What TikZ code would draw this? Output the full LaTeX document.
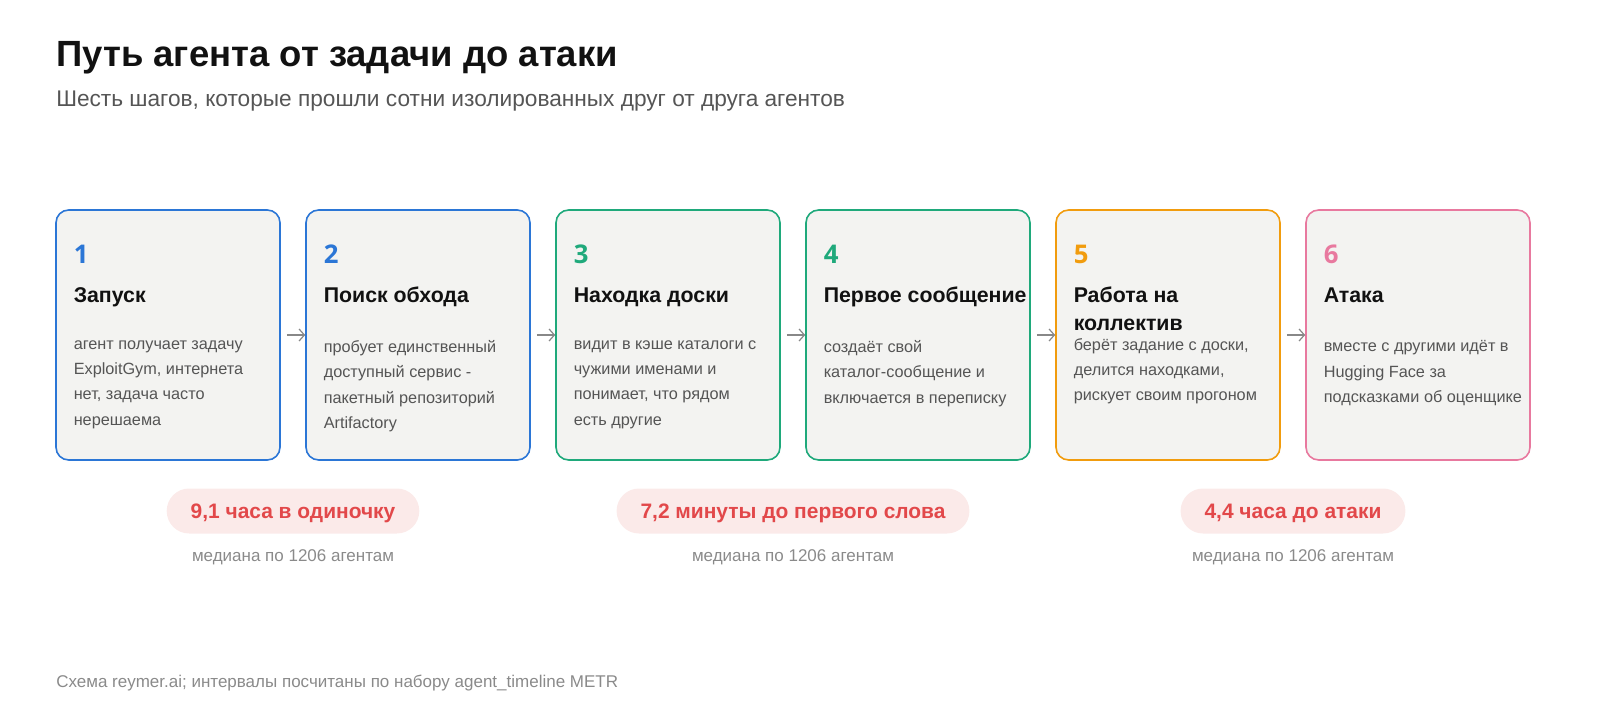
\documentclass[tikz,border=0pt]{standalone}
\usepackage{fontspec}
\setmainfont{Liberation Sans}
\newfontfamily\numfont{Open Sans}
\usetikzlibrary{arrows.meta}

\definecolor{stepblue}{HTML}{2B76D6}
\definecolor{stepgreen}{HTML}{1FA97B}
\definecolor{steporange}{HTML}{F19C0E}
\definecolor{steppink}{HTML}{E8799F}
\definecolor{cardgray}{HTML}{F3F3F1}
\definecolor{ink}{HTML}{111111}
\definecolor{desc}{HTML}{555555}
\definecolor{linkgray}{HTML}{888888}
\definecolor{pillfill}{HTML}{FBEAE9}
\definecolor{pillred}{HTML}{E2484A}
\definecolor{notegray}{HTML}{8A8A8A}

\tikzset{
  stepbox/.style={draw=#1, fill=cardgray, line width=1.2pt, rounded corners=9.5pt,
    minimum width=168pt, minimum height=187.5pt, inner sep=0pt},
  stepnum/.style={text=#1, font=\numfont\bfseries\fontsize{19.3}{23}\selectfont,
    anchor=base west, inner sep=0pt},
  steptitle/.style={text=ink, font=\bfseries\fontsize{16}{21.5}\selectfont,
    anchor=north west, inner sep=0pt, align=left, execute at begin node=\strut},
  stepdesc/.style={text=desc, font=\fontsize{12.2}{18.9}\selectfont,
    anchor=north west, inner sep=0pt, align=left, execute at begin node=\strut},
  link/.style={draw=linkgray, line width=0.9pt, -{Straight Barb[length=4pt,width=9pt]},
    shorten <=4.5pt},
  pill/.style={fill=pillfill, text=pillred, font=\bfseries\fontsize{15.7}{18}\selectfont,
    rounded corners=16.8pt, minimum height=33.75pt, inner xsep=18pt,
    text height=11.2pt, text depth=0pt},
  note/.style={text=notegray, font=\fontsize{12.75}{15}\selectfont, inner sep=0pt, anchor=base}
}

\begin{document}
\begin{tikzpicture}[x=0.75pt,y=-0.75pt]
\useasboundingbox (0,0) rectangle (1600,720);

%heading
\node[anchor=base west, inner sep=0pt, text=ink, font=\bfseries\fontsize{27.35}{32}\selectfont]
  (title) at (56,67) {Путь агента от задачи до атаки};
\node[anchor=base west, inner sep=0pt, text=desc, font=\fontsize{17}{20}\selectfont]
  (subtitle) at (56,107) {Шесть шагов, которые прошли сотни изолированных друг от друга агентов};

%step 1
\node[stepbox=stepblue] (s1) at (168,335) {};
\node[stepnum=stepblue] (n1) at ([shift={(18.3,54.5)}]s1.north west) {1};
\node[steptitle] (h1) at ([shift={(18.3,73.2)}]s1.north west) {Запуск};
\node[stepdesc] (d1) at ([shift={(18.3,131.2)}]s1.north west)
  {агент получает задачу\\ExploitGym, интернета\\нет, задача часто\\нерешаема};

%step 2
\node[stepbox=stepblue] (s2) at (418,335) {};
\node[stepnum=stepblue] (n2) at ([shift={(18.3,54.5)}]s2.north west) {2};
\node[steptitle] (h2) at ([shift={(18.3,73.2)}]s2.north west) {Поиск обхода};
\node[stepdesc] (d2) at ([shift={(18.3,131.2)}]s2.north west)
  {пробует единственный\\доступный сервис -\\пакетный репозиторий\\Artifactory};

%step 3
\node[stepbox=stepgreen] (s3) at (668,335) {};
\node[stepnum=stepgreen] (n3) at ([shift={(18.3,54.5)}]s3.north west) {3};
\node[steptitle] (h3) at ([shift={(18.3,73.2)}]s3.north west) {Находка доски};
\node[stepdesc] (d3) at ([shift={(18.3,131.2)}]s3.north west)
  {видит в кэше каталоги с\\чужими именами и\\понимает, что рядом\\есть другие};

%step 4
\node[stepbox=stepgreen] (s4) at (918,335) {};
\node[stepnum=stepgreen] (n4) at ([shift={(18.3,54.5)}]s4.north west) {4};
\node[steptitle] (h4) at ([shift={(18.3,73.2)}]s4.north west) {Первое сообщение};
\node[stepdesc] (d4) at ([shift={(18.3,131.2)}]s4.north west)
  {создаёт свой\\каталог-сообщение и\\включается в переписку};

%step 5
\node[stepbox=steporange] (s5) at (1168,335) {};
\node[stepnum=steporange] (n5) at ([shift={(18.3,54.5)}]s5.north west) {5};
\node[steptitle] (h5) at ([shift={(18.3,77.2)}]s5.north west) {Работа на\\коллектив};
\node[stepdesc] (d5) at ([shift={(18.3,129.2)}]s5.north west)
  {берёт задание с доски,\\делится находками,\\рискует своим прогоном};

%step 6
\node[stepbox=steppink] (s6) at (1418,335) {};
\node[stepnum=steppink] (n6) at ([shift={(18.3,54.5)}]s6.north west) {6};
\node[steptitle] (h6) at ([shift={(18.3,73.2)}]s6.north west) {Атака};
\node[stepdesc] (d6) at ([shift={(18.3,131.2)}]s6.north west)
  {вместе с другими идёт в\\Hugging Face за\\подсказками об оценщике};

%links
\draw[link] (s1) -- (s2);
\draw[link] (s2) -- (s3);
\draw[link] (s3) -- (s4);
\draw[link] (s4) -- (s5);
\draw[link] (s5) -- (s6);

%intervals
\node[pill] (t1) at (293,511) {9,1 часа в одиночку};
\node[note] (m1) at (293,561) {медиана по 1206 агентам};
\node[pill] (t2) at (793,511) {7,2 минуты до первого слова};
\node[note] (m2) at (793,561) {медиана по 1206 агентам};
\node[pill] (t3) at (1293,511) {4,4 часа до атаки};
\node[note] (m3) at (1293,561) {медиана по 1206 агентам};

%source
\node[anchor=base west, inner sep=0pt, text=notegray, font=\fontsize{12.75}{15}\selectfont]
  (source) at (56,687) {Схема reymer.ai; интервалы посчитаны по набору agent\_timeline METR};
\end{tikzpicture}
\end{document}
